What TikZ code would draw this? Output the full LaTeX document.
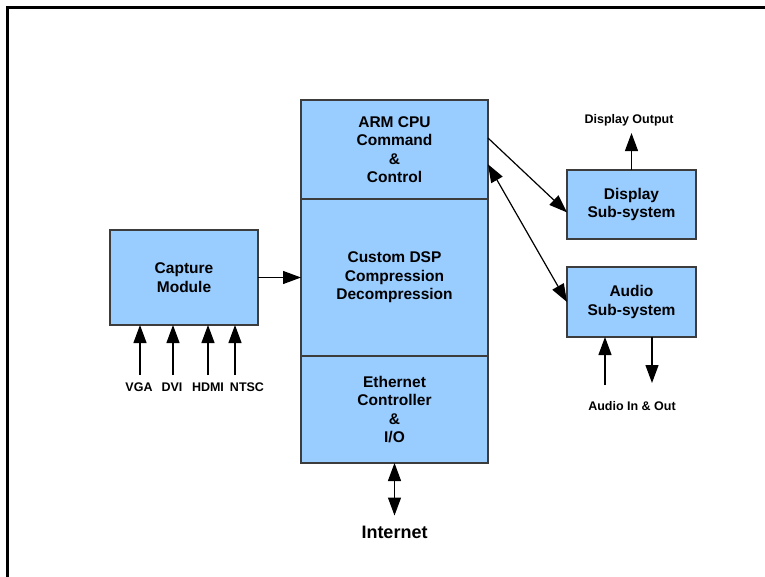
\documentclass[tikz,border=0pt]{standalone}
\usepackage{fontspec}
\setmainfont{Liberation Sans}
\usetikzlibrary{arrows.meta}
\definecolor{boxblue}{RGB}{153,204,255}
\definecolor{boxedge}{RGB}{60,60,60}
\tikzset{
  block/.style={draw=boxedge, fill=boxblue, line width=1.1pt, inner sep=0pt,
    outer sep=0pt, align=center, font=\bfseries\fontsize{15.5}{18.5}\selectfont},
  tag/.style={font=\bfseries\fontsize{12.5}{14}\selectfont, inner sep=7pt},
  arr/.style={-{Triangle[length=18pt,width=13pt]}, line width=1.2pt},
  dbl/.style={{Triangle[length=18pt,width=13pt]}-{Triangle[length=18pt,width=13pt]}, line width=1.2pt}
}
\begin{document}
\begin{tikzpicture}[x=1pt,y=-1pt]
    \useasboundingbox (0,0) rectangle (765,577);
    \draw[line width=3pt] (765,8) -- (7.5,8) -- (7.5,577);

    % centre column
    \node[block, minimum width=187pt, minimum height=99pt] (arm) at (394.5,149.5)
        {ARM CPU\\Command\\\&\\Control};
    \node[block, minimum width=187pt, minimum height=157pt] (dsp) at (394.5,277.5)
        {Custom DSP\\Compression\\Decompression};
    \node[block, minimum width=187pt, minimum height=107pt] (eth) at (394.5,409.5)
        {Ethernet\\Controller\\\&\\I/O};

    % side blocks
    \node[block, minimum width=148pt, minimum height=95pt] (cap) at (184,277.5) {Capture\\Module};
    \node[block, minimum width=129pt, minimum height=69pt] (disp) at (631.5,204.5) {Display\\Sub-system};
    \node[block, minimum width=129pt, minimum height=70pt] (audio) at (631.5,302) {Audio\\Sub-system};

    % labels
    \node[tag] (vga) at (139,387) {VGA};
    \node[tag] (dvi) at (172,387) {DVI};
    \node[tag] (hdmi) at (208,387) {HDMI};
    \node[tag] (ntsc) at (247,387) {NTSC};
    \node[tag] (dout) at (629,120) {Display Output};
    \node[tag] (aio) at (632,406) {Audio In \& Out};
    \node[tag, font=\bfseries\fontsize{18}{20}\selectfont, inner sep=10pt] (inet) at (394.5,532) {Internet};

    \coordinate (vga-in) at (140,375);
    \coordinate (dvi-in) at (173,375);
    \coordinate (hdmi-in) at (208,375);
    \coordinate (ntsc-in) at (235,375);
    \coordinate (ain) at (605,385);
    \coordinate (aout) at (652,383);

    % connectors
    \draw[arr] (vga-in) -- (vga-in |- cap.south);
    \draw[arr] (dvi-in) -- (dvi-in |- cap.south);
    \draw[arr] (hdmi-in) -- (hdmi-in |- cap.south);
    \draw[arr] (ntsc-in) -- (ntsc-in |- cap.south);
    \draw[arr] (cap.east) -- (dsp.west |- cap.east);
    \draw[arr] (arm.7) -- (disp.187);
    \draw[dbl] (arm.351) -- (audio.west);
    \draw[arr] (disp.north) -- (disp.north |- dout.south);
    \draw[arr] (ain) -- (ain |- audio.south);
    \draw[arr] (aout |- audio.south) -- (aout);
    \draw[dbl] (eth.south) -- (inet.north);
\end{tikzpicture}
\end{document}
